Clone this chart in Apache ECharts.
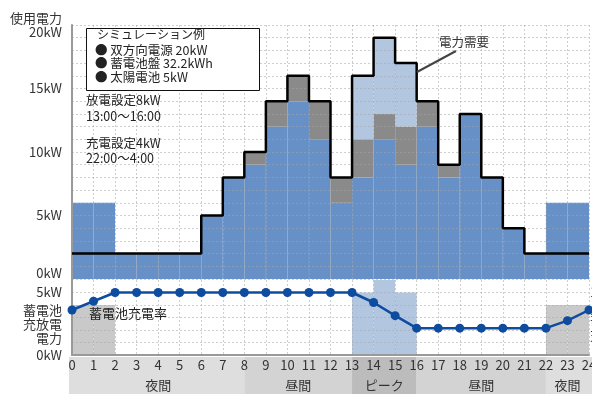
<!DOCTYPE html>
<html>
<head>
<meta charset="utf-8">
<script src="https://cdn.jsdelivr.net/npm/echarts@6/dist/echarts.min.js"></script>
<style>
  html, body { margin: 0; padding: 0; background: #fff; }
  #chart { width: 592px; height: 394px; }
</style>
</head>
<body>
<div id="chart"></div>
<script>
// Hourly slots 0..23 (each bar spans one hour)
const hours = ['0','1','2','3','4','5','6','7','8','9','10','11','12','13','14','15','16','17','18','19','20','21','22','23'];
// Electricity demand (kW), drawn as a step outline
const demand    = [2, 2, 2, 2, 2, 2, 5, 8, 10, 14, 16, 14, 8, 16, 19, 17, 14, 9, 13, 8, 4, 2, 2, 2];
// Supply stack (kW): grid power, solar, battery discharge
const gridPower = [6, 6, 2, 2, 2, 2, 5, 8, 9, 12, 14, 11, 6, 8, 11, 9, 12, 8, 13, 8, 4, 2, 6, 6];
const solar     = [0, 0, 0, 0, 0, 0, 0, 0, 1, 2, 2, 3, 2, 3, 2, 3, 2, 1, 0, 0, 0, 0, 0, 0];
const discharge = [0, 0, 0, 0, 0, 0, 0, 0, 0, 0, 0, 0, 0, 5, 6, 5, 0, 0, 0, 0, 0, 0, 0, 0];
// Battery charge power (kW) for the lower panel
const charge    = [4, 4, 0, 0, 0, 0, 0, 0, 0, 0, 0, 0, 0, 0, 0, 0, 0, 0, 0, 0, 0, 0, 4, 4];
// Battery state of charge (%) at hours 0..24
const socHours  = [0,1,2,3,4,5,6,7,8,9,10,11,12,13,14,15,16,17,18,19,20,21,22,23,24];
const soc       = [72, 86, 100, 100, 100, 100, 100, 100, 100, 100, 100, 100, 100, 100, 84, 63, 43, 43, 43, 43, 43, 43, 43, 55, 72];
// Time-of-day bands under the axis
const periodNames = ['夜間', '昼間', 'ピーク', '昼間', '夜間'];
const periodStart = [0, 8, 13, 16, 22];
const periodEnd   = [8, 13, 16, 22, 24];

const FONT = '"Noto Sans CJK JP", "Noto Sans", sans-serif';
const BLUE = '#6690c6', GREY = '#8a8a8a', LIGHT = '#b3c6e0', CHG = '#c8c9c8';
const gridLine = { show: true, lineStyle: { color: 'rgba(165,165,165,0.55)', type: [2, 2], width: 1 } };
const bandColor = { '夜間': '#dedede', '昼間': '#d3d3d3', 'ピーク': '#bcbcbc' };

const chart = echarts.init(document.getElementById('chart'), null, { renderer: 'canvas' });

chart.setOption({
  animation: false,
  textStyle: { fontFamily: FONT },
  grid: [
    { left: 72, right: 3, top: 25, height: 254, containLabel: false, outerBoundsMode: 'none' },
    { left: 72, right: 3, top: 280, height: 75, containLabel: false, outerBoundsMode: 'none' },
    { left: 72, right: 3, top: 357, height: 37, containLabel: false, outerBoundsMode: 'none' }
  ],
  xAxis: [
    { type: 'category', gridIndex: 0, data: hours, show: false, position: 'bottom' },
    { type: 'value', gridIndex: 0, min: 0, max: 24, interval: 1, z: 3, position: 'bottom',
      axisLine: { show: false }, axisTick: { show: false }, axisLabel: { show: false },
      splitLine: gridLine },
    { type: 'category', gridIndex: 1, data: hours, show: false, position: 'bottom' },
    { type: 'value', gridIndex: 1, min: 0, max: 24, interval: 1, z: 3, position: 'bottom',
      axisLine: { show: true, onZero: false, lineStyle: { color: '#999', width: 2 } },
      axisTick: { show: false },
      axisLabel: { margin: 4, fontSize: 13, color: '#333', fontFamily: FONT },
      splitLine: gridLine },
    { type: 'value', gridIndex: 2, min: 0, max: 24, show: false, position: 'bottom' }
  ],
  yAxis: [
    { type: 'value', gridIndex: 0, min: 0, max: 20, interval: 1, z: 3,
      axisLine: { show: true, lineStyle: { color: '#999', width: 2 } },
      axisTick: { show: false },
      splitLine: gridLine,
      axisLabel: {
        margin: 10, fontSize: 13, color: '#333', fontFamily: FONT, lineHeight: 14,
        formatter: function (v) {
          if (v === 20) return '使用電力\n20kW';
          if (v === 0) return '{lo|0kW}';
          return v % 5 === 0 ? v + 'kW' : '';
        },
        rich: { lo: { fontSize: 13, color: '#333', fontFamily: FONT, padding: [0, 0, 12, 0] } }
      } },
    { type: 'value', gridIndex: 1, min: 0, max: 6, interval: 1, z: 3, position: 'left',
      axisLine: { show: true, lineStyle: { color: '#999', width: 2 } },
      axisTick: { show: false },
      splitLine: Object.assign({ showMaxLine: false }, gridLine),
      axisLabel: {
        margin: 10, fontSize: 13, color: '#333', fontFamily: FONT,
        formatter: function (v) { return (v === 5 || v === 0) ? v + 'kW' : ''; }
      } },
    { type: 'value', gridIndex: 1, min: 0, max: 120, interval: 20, position: 'right',
      axisLine: { show: false }, axisTick: { show: false }, splitLine: { show: false },
      axisLabel: { margin: 1, fontSize: 13, color: '#333', fontFamily: FONT,
        formatter: function (v) { return v === 100 ? '100%' : ''; } } },
    { type: 'value', gridIndex: 2, min: 0, max: 1, show: false }
  ],
  series: [
    { name: '双方向電源', type: 'bar', xAxisIndex: 0, yAxisIndex: 0, stack: 'supply',
      barWidth: '100%', barCategoryGap: '0%', itemStyle: { color: BLUE }, data: gridPower },
    { name: '太陽電池', type: 'bar', xAxisIndex: 0, yAxisIndex: 0, stack: 'supply',
      barWidth: '100%', itemStyle: { color: GREY }, data: solar },
    { name: '蓄電池放電', type: 'bar', xAxisIndex: 0, yAxisIndex: 0, stack: 'supply',
      barWidth: '100%', itemStyle: { color: LIGHT }, data: discharge },
    { name: '電力需要', type: 'line', xAxisIndex: 1, yAxisIndex: 0, step: 'end', z: 5,
      symbol: 'none', lineStyle: { color: '#000', width: 2.5 },
      data: demand.map((v, i) => [i, v]).concat([[24, demand[demand.length - 1]]]) },
    { name: '充電', type: 'bar', xAxisIndex: 2, yAxisIndex: 1, stack: 'battery',
      barWidth: '100%', barCategoryGap: '0%', itemStyle: { color: CHG }, data: charge },
    { name: '放電', type: 'bar', xAxisIndex: 2, yAxisIndex: 1, stack: 'battery',
      barWidth: '100%', itemStyle: { color: LIGHT }, data: discharge },
    { name: '蓄電池充電率', type: 'line', xAxisIndex: 3, yAxisIndex: 2, z: 5,
      symbol: 'circle', symbolSize: 9, itemStyle: { color: '#0d4c9e' },
      lineStyle: { color: '#0d4c9e', width: 2.5 },
      data: socHours.map((h, i) => [h, soc[i]]) },
    { name: 'period', type: 'custom', xAxisIndex: 4, yAxisIndex: 3, silent: true,
      data: periodStart.map((s, i) => [s, periodEnd[i]]),
      renderItem: function (params, api) {
        const a = api.value(0), b = api.value(1);
        const p0 = api.coord([a, 1]);
        const p1 = api.coord([b, 0]);
        const x0 = p0[0] - (a === 0 ? 3 : 0);
        const x1 = p1[0] + (b === 24 ? 4 : 0);
        const name = periodNames[params.dataIndex];
        return {
          type: 'group',
          children: [
            { type: 'rect', shape: { x: x0, y: p0[1], width: x1 - x0, height: p1[1] - p0[1] },
              style: { fill: bandColor[name] } },
            { type: 'text', z2: 10,
              style: { text: name, x: (p0[0] + p1[0]) / 2, y: p1[1] - 9, align: 'center',
                       verticalAlign: 'middle', fill: '#333', fontSize: 13, fontFamily: FONT } }
          ]
        };
      } }
  ],
  graphic: [
    { type: 'rect', z: 20, shape: { x: 86.5, y: 28.5, width: 173, height: 62 },
      style: { fill: '#fff', stroke: '#111', lineWidth: 1 } },
    { type: 'text', z: 21, x: 97, y: 34,
      style: { text: 'シミュレーション例', fontSize: 12, fontFamily: FONT, fill: '#222', verticalAlign: 'middle' } },
    { type: 'text', z: 21, x: 95, y: 50,
      style: { text: '● 双方向電源 20kW', fontSize: 12.5, fontFamily: FONT, fill: '#222', verticalAlign: 'middle' } },
    { type: 'text', z: 21, x: 95, y: 63.5,
      style: { text: '● 蓄電池盤 32.2kWh', fontSize: 12.5, fontFamily: FONT, fill: '#222', verticalAlign: 'middle' } },
    { type: 'text', z: 21, x: 95, y: 77,
      style: { text: '● 太陽電池 5kW', fontSize: 12.5, fontFamily: FONT, fill: '#222', verticalAlign: 'middle' } },
    { type: 'text', z: 21, x: 86, y: 108,
      style: { text: '放電設定8kW\n13:00〜16:00', fontSize: 12.5, lineHeight: 15.5, fontFamily: FONT, fill: '#222', verticalAlign: 'middle' } },
    { type: 'text', z: 21, x: 86, y: 151,
      style: { text: '充電設定4kW\n22:00〜4:00', fontSize: 12.5, lineHeight: 15, fontFamily: FONT, fill: '#222', verticalAlign: 'middle' } },
    { type: 'text', z: 21, x: 464, y: 42,
      style: { text: '電力需要', fontSize: 12.5, fontFamily: FONT, fill: '#333', align: 'center', verticalAlign: 'middle' } },
    { type: 'line', z: 21, shape: { x1: 456, y1: 51, x2: 417, y2: 72 },
      style: { stroke: '#444', lineWidth: 2 } },
    { type: 'text', z: 21, x: 89, y: 313,
      style: { text: '蓄電池充電率', fontSize: 13, fontFamily: FONT, fill: '#222', verticalAlign: 'middle' } },
    { type: 'text', z: 21, x: 62, y: 324.5,
      style: { text: '蓄電池\n充放電\n電力', fontSize: 13, lineHeight: 14, fontFamily: FONT, fill: '#333', align: 'right', verticalAlign: 'middle' } },
    { type: 'text', z: 21, x: 590, y: 327,
      style: { text: '蓄電池\n充電率', fontSize: 13, lineHeight: 16, fontFamily: FONT, fill: '#333', verticalAlign: 'middle' } }
  ]
});
</script>
</body>
</html>
